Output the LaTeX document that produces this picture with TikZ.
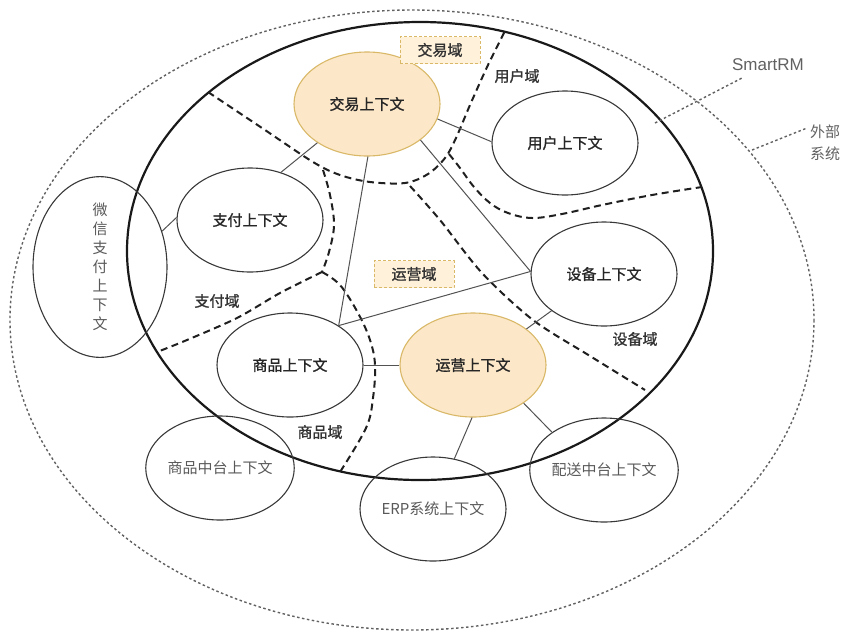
\documentclass[tikz,border=0pt]{standalone}
\usepackage{fontspec}
\setmainfont{Liberation Sans}
\newfontfamily\cjk{Noto Sans CJK SC}[AutoFakeBold=1.2]
\usetikzlibrary{shapes.geometric}
\definecolor{orfill}{HTML}{FCE8C8}
\definecolor{ordraw}{HTML}{D9B868}
\definecolor{boxfill}{HTML}{FFF1DA}
\tikzset{
  ctx/.style={ellipse, draw=black!78, line width=1.1pt, minimum width=146pt, minimum height=104pt, inner sep=0pt, font=\cjk\bfseries\fontsize{15}{18}\selectfont, text=black!85},
  core/.style={ctx, fill=orfill, draw=ordraw},
  ext/.style={ellipse, draw=black!78, line width=1.1pt, minimum width=146pt, minimum height=104pt, inner sep=0pt, font=\cjk\fontsize{15}{18}\selectfont, text=black!65},
  dom/.style={font=\cjk\bfseries\fontsize{15}{18}\selectfont, text=black!80, inner sep=0pt},
  dombox/.style={dom, draw=ordraw, fill=boxfill, line width=0.9pt, dash pattern=on 3pt off 2pt, minimum width=80pt, minimum height=27pt},
  link/.style={draw=black!68, line width=1pt},
  bound/.style={draw=black!88, line width=2pt, dash pattern=on 7pt off 4.5pt},
  leader/.style={draw=black!62, line width=1.4pt, dash pattern=on 2.5pt off 2.5pt},
}
\begin{document}
\begin{tikzpicture}[x=1pt,y=-1pt]
\useasboundingbox (0,0) rectangle (858,635);
% outer system ellipse
\draw[leader] (412,320) ellipse [x radius=402, y radius=310];
% SmartRM main ellipse
\draw[black!90, line width=2.2pt] (420,251) ellipse [x radius=293, y radius=229];

% domain boundaries
\draw[bound] plot[smooth, tension=0.55] coordinates {(208,92) (262,128) (313,162) (340,175) (370,182) (405,183) (428,174) (445,158) (456,138) (470,105) (488,65) (505,31)};
\draw[bound] plot[smooth, tension=0.6] coordinates {(323,170) (330,195) (334,225) (329,252) (322,272)};
\draw[bound] plot[smooth, tension=0.5] coordinates {(322,272) (280,293) (237,318) (187,340) (157,352)};
\draw[bound] plot[smooth, tension=0.6] coordinates {(322,272) (340,285) (358,313) (370,340) (375,365) (373,398) (366,428) (340,472)};
\draw[bound] plot[smooth, tension=0.6] coordinates {(449,154) (460,168) (474,187) (490,203) (508,213) (532,218) (562,214) (602,205) (652,195) (702,187)};
\draw[bound] plot[smooth, tension=0.5] coordinates {(410,186) (440,220) (482,273) (533,320) (590,356) (645,390)};

% context nodes
\node[core] (jy) at (367,104) {交易上下文};
\node[ctx]  (yh) at (565,143) {用户上下文};
\node[ctx]  (zf) at (250,220) {支付上下文};
\node[ctx]  (sb) at (604,274) {设备上下文};
\node[ctx]  (sp) at (290,365) {商品上下文};
\node[core] (yy) at (473,365) {运营上下文};
\node[ext, minimum width=134pt, minimum height=170pt, align=center, font=\cjk\fontsize{15}{19}\selectfont] (wx) at (100,267) {微\\信\\支\\付\\上\\下\\文};
\node[ext] (spzt) at (220,468) {商品中台上下文};
\node[ext] (erp) at (433,509) {ERP系统上下文};
\node[ext] (ps) at (604,470) {配送中台上下文};

% domain labels
\node[dombox] (jyd) at (440,50) {交易域};
\node[dombox] (yyd) at (414,274) {运营域};
\node[dom] (yhd) at (517,76) {用户域};
\node[dom] (zfd) at (217,301) {支付域};
\node[dom] (sbd) at (635,339) {设备域};
\node[dom] (spd) at (320,432) {商品域};

% connectors
\draw[link] (jy.-12) -- (yh.179);
\draw[link] (jy.-142) -- (zf.57);
\draw[link] (jy.-89) -- (sp.39);
\draw[link] (jy.-34) -- (sb.178);
\draw[link] (sp.39) -- (sb.178);
\draw[link] (sp) -- (yy);
\draw[link] (yy.34) -- (sb.-145);
\draw[link] (wx.30) -- (zf.178);
\draw[link] (yy.-91) -- (erp.67);
\draw[link] (yy.-37) -- (ps.144);

% system labels
\node[text=black!62, font=\fontsize{17}{20}\selectfont, inner sep=0pt] (smart) at (768,65) {SmartRM};
\node[text=black!62, font=\cjk\fontsize{15}{22}\selectfont, align=center, inner sep=0pt] (ext) at (825,143) {外部\\系统};
\coordinate (smA) at (655,123);
\coordinate (smB) at (742,78);
\coordinate (exA) at (752,150);
\coordinate (exB) at (807,128);
\draw[leader] (smA) -- (smB);
\draw[leader] (exA) -- (exB);
\end{tikzpicture}
\end{document}
